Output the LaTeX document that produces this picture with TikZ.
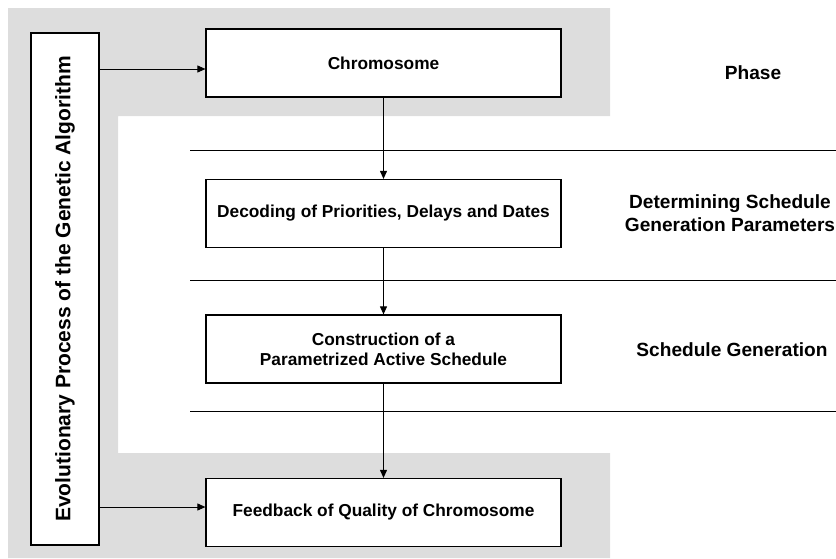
\documentclass[tikz,border=0pt]{standalone}
\usepackage{fontspec}
\setmainfont{Liberation Sans}
\usetikzlibrary{arrows.meta}

\begin{document}
\begin{tikzpicture}[x=1pt,y=-1pt,
  stage/.style={draw,line width=1.2pt,fill=white,minimum width=355pt,minimum height=68pt,
    align=center,font=\fontsize{17.3}{20}\selectfont\bfseries},
  phase/.style={align=center,font=\fontsize{19.1}{23}\selectfont\bfseries},
  flow/.style={line width=0.9pt,-{Triangle[length=8pt,width=7pt]}},
  rule/.style={line width=1pt}]
\normalfont
% Grey frame around the loop of the genetic algorithm
\definecolor{panelgrey}{RGB}{221,221,221}
\useasboundingbox (0,0) rectangle (836,558);
\fill[panelgrey] (8,8) -- (610,8) -- (610,116) -- (118,116) -- (118,453)
  -- (610,453) -- (610,558) -- (8,558) -- cycle;
% Lines between the phases
\foreach \y in {150,280,411}
  \draw[rule] (190,\y) -- (836,\y);
% Boxes of the steps
\node[stage] (chrom) at (383.5,63) {Chromosome};
\node[stage] (decode) at (383.5,213.5) {Decoding of Priorities, Delays and Dates};
\node[stage] (construct) at (383.5,349) {Construction of a\\Parametrized Active Schedule};
\node[stage] (feedback) at (383.5,512.5) {Feedback of Quality of Chromosome};
% Evolutionary process, written upwards
\node[draw,line width=1.2pt,fill=white,rotate=90,minimum width=512pt,minimum height=68pt,
  font=\fontsize{21}{24}\selectfont\bfseries] (evo) at (65,289)
  {Evolutionary Process of the Genetic Algorithm};
% Names of the phases
\node[phase] (phasehead) at (753,73) {Phase};
\node[phase] (phaseparam) at (730,213.5) {Determining Schedule\\Generation Parameters};
\node[phase] (phasegen) at (732,350) {Schedule Generation};
% Arrows
\draw[flow] (chrom) -- (decode);
\draw[flow] (decode) -- (construct);
\draw[flow] (construct) -- (feedback);
\draw[flow] ([yshift=-6pt]evo.south |- chrom.west) -- ([yshift=-6pt]chrom.west);
\draw[flow] ([yshift=5.5pt]evo.south |- feedback.west) -- ([yshift=5.5pt]feedback.west);
\end{tikzpicture}
\end{document}
